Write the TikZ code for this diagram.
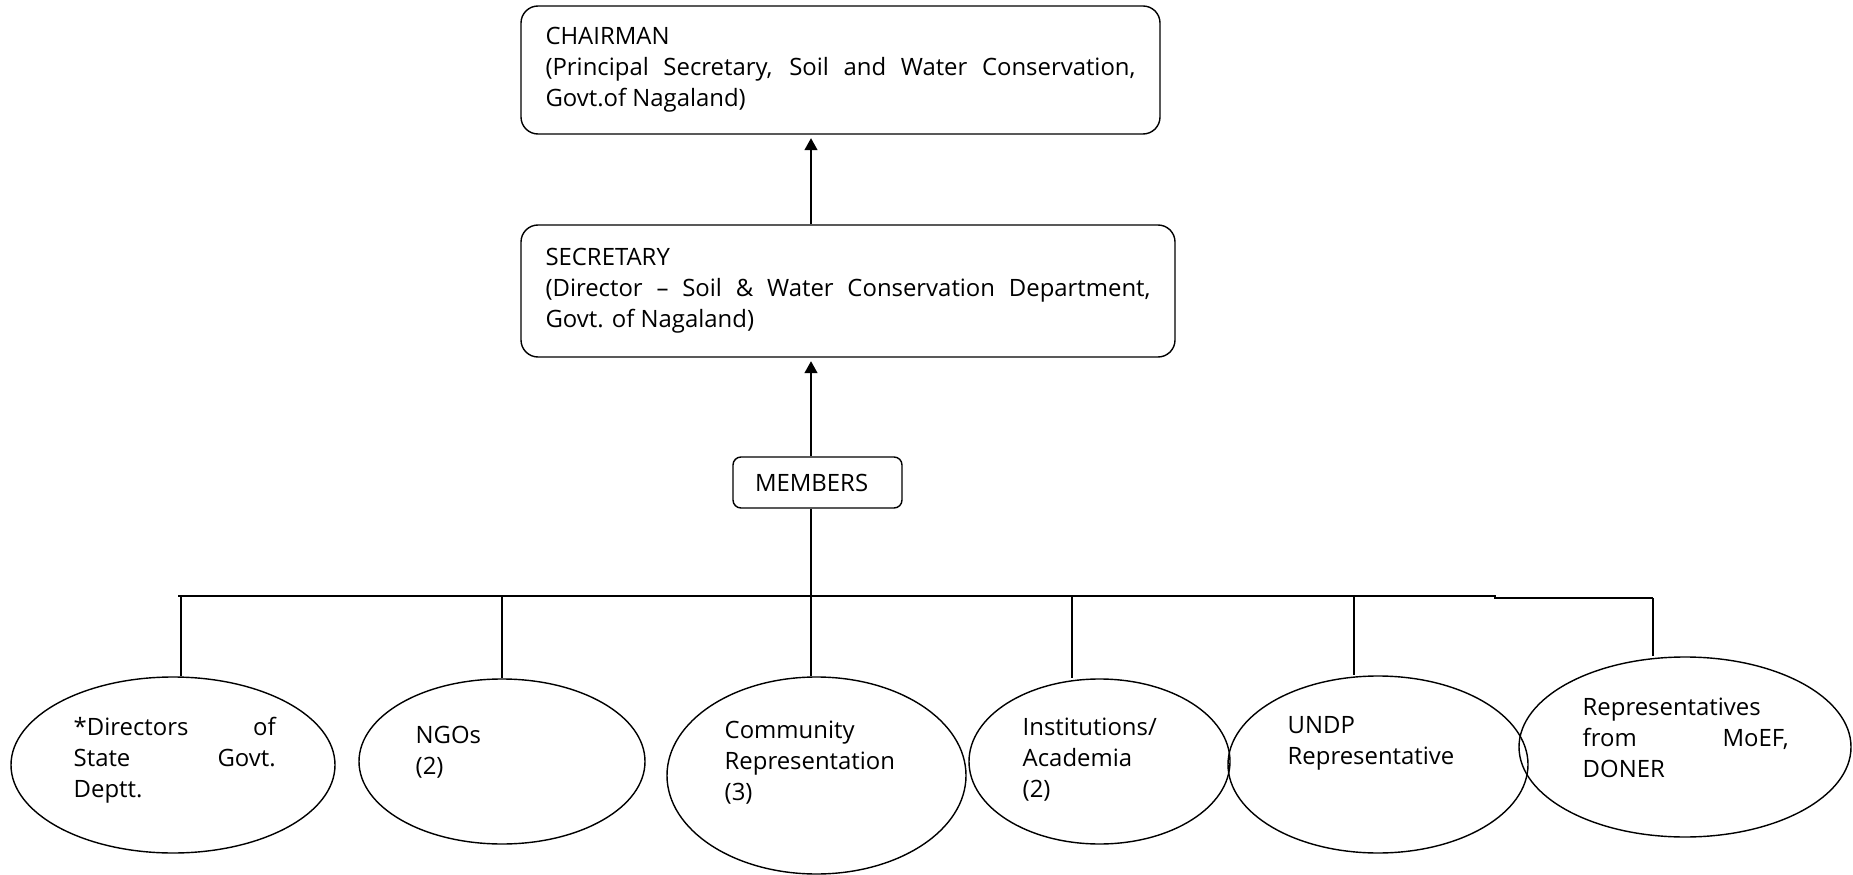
\documentclass[tikz,border=0pt]{standalone}
\usepackage{fontspec}
\setmainfont{Open Sans}
\usetikzlibrary{arrows.meta,calc,shapes.geometric}

\begin{document}
\begin{tikzpicture}[
  font=\fontsize{13.6}{17.6}\selectfont,
  >=Triangle,
  thick,
  box/.style={draw, thick, rounded corners=0.34cm, align=justify, inner xsep=0.49cm},
  member/.style={draw, thick, ellipse, inner sep=0pt},
  memtext/.style={anchor=north west, inner sep=0pt, text width=4.2cm, align=left,
    execute at begin node=\strut},
  arr/.style={-{Triangle[length=2.4mm, width=2.6mm]}, thick, shorten >=2pt},
]
  \useasboundingbox (0,0) rectangle (37.06,-17.5);

  % ===== Chairman and secretary =====
  \node[box, text width=11.8cm, minimum height=2.56cm] (chair) at (16.81,-1.40)
    {CHAIRMAN\\(Principal Secretary, Soil and Water Conservation,\linebreak Govt.of Nagaland)};
  \node[box, text width=12.1cm, minimum height=2.64cm] (secretary) at (16.96,-5.82)
    {SECRETARY\\(Director -- Soil \& Water Conservation Department,\linebreak Govt. of Nagaland)};
  \node[box, rounded corners=0.16cm, text width=2.5cm, align=left, inner xsep=0.44cm,
    minimum height=1.02cm] (members) at (16.35,-9.65) {MEMBERS};

  \coordinate (spine) at (16.22,-11.92);
  \draw[arr] (members.north -| spine) -- (secretary.south -| spine);
  \draw[arr] (secretary.north -| spine) -- (chair.south -| spine);

  % ===== Members =====
  \node[member, minimum width=6.48cm, minimum height=3.52cm] (dir) at (3.46,-15.30) {};
  \node[member, minimum width=5.72cm, minimum height=3.30cm] (ngo) at (10.04,-15.23) {};
  \node[member, minimum width=5.98cm, minimum height=3.94cm] (com) at (16.33,-15.51) {};
  \node[member, minimum width=5.22cm, minimum height=3.30cm] (inst) at (21.99,-15.23) {};
  \node[member, minimum width=6.00cm, minimum height=3.54cm] (undp) at (27.56,-15.29) {};
  \node[member, minimum width=6.64cm, minimum height=3.60cm] (rep) at (33.70,-14.94) {};

  \node[memtext, text width=4.04cm, align=justify] (dirtext) at (1.46,-14.27)
    {*Directors of\linebreak State Govt.\linebreak Deptt.};
  \node[memtext] (ngotext) at (8.30,-14.43) {NGOs\\(2)};
  \node[memtext] (comtext) at (14.48,-14.33) {Community\\Representation\\(3)};
  \node[memtext] (insttext) at (20.44,-14.27) {Institutions/\\Academia\\(2)};
  \node[memtext] (undptext) at (25.74,-14.23) {UNDP\\Representative};
  \node[memtext, text width=4.12cm, align=justify] (reptext) at (31.64,-13.87)
    {Representatives\linebreak from MoEF,\linebreak DONER};

  % bus line and drops
  \coordinate (busL) at (3.56,-11.92);
  \coordinate (busR) at (33.06,-11.96);
  \coordinate (dirtap) at (3.62,-11.92);
  \coordinate (ngotap) at (10.04,-11.92);
  \coordinate (insttap) at (21.44,-11.92);
  \coordinate (undptap) at (27.08,-11.92);

  \draw (busL) -- (29.90,-11.92) |- (busR);
  \draw (members.south -| spine) -- (com.north -| spine);
  \draw (dirtap) -- (dirtap |- dir.north);
  \draw (ngotap) -- (ngotap |- ngo.north);
  \draw (insttap) -- (insttap |- inst.north);
  \draw (undptap) -- (undptap |- undp.north);
  \draw (busR) -- (busR |- rep.north);
\end{tikzpicture}
\end{document}
